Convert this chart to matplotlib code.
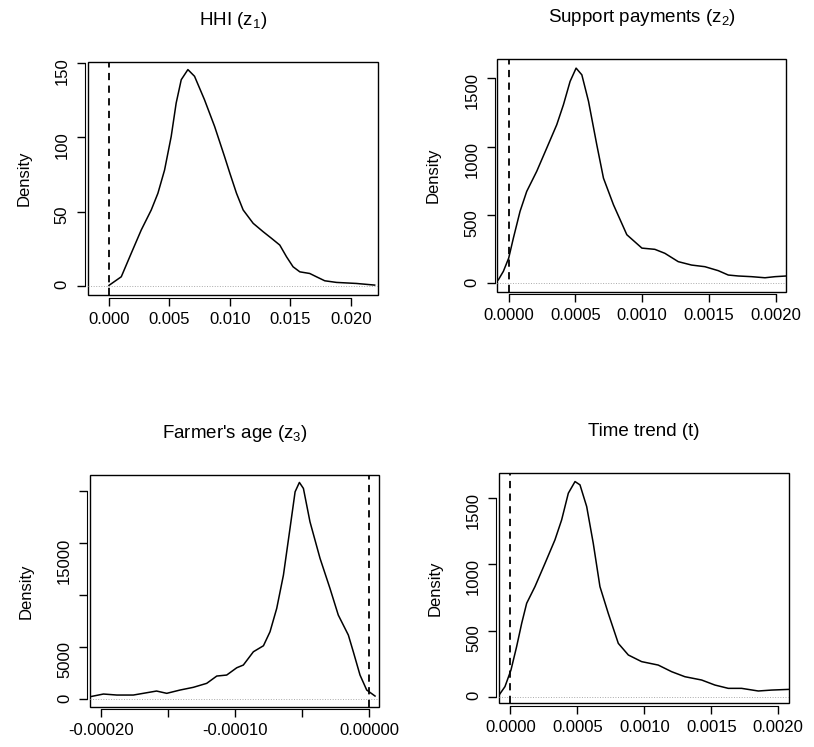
import numpy as np
import matplotlib.pyplot as plt
from matplotlib.patches import Rectangle

plt.rcParams['font.family'] = ['Liberation Sans', 'DejaVu Sans']
plt.rcParams['mathtext.fontset'] = 'custom'
plt.rcParams['mathtext.rm'] = 'Liberation Sans'
plt.rcParams['mathtext.it'] = 'Liberation Sans'

# HHI (z1)
hhi_x = [0.0, 0.00102, 0.00184, 0.00267, 0.0035, 0.00405, 0.0046, 0.00515, 0.00556, 0.00598,
         0.00653, 0.00708, 0.0079, 0.00874, 0.00956, 0.0100, 0.01055, 0.0111, 0.01193,
         0.01275, 0.01345, 0.01413, 0.01469, 0.01523, 0.01579, 0.01661, 0.01716, 0.01785,
         0.01882, 0.02047, 0.02198]
hhi_y = [0.5, 6.3, 22, 37.7, 51.2, 62.4, 78, 100.6, 123, 138.7, 145.5, 141, 125.3, 107.3,
         87.1, 75.9, 62.4, 51.2, 42.2, 36.6, 32.1, 27.6, 19.7, 13, 9.6, 8.5, 6.3, 3.6, 2.5,
         1.8, 0.7]

# Support payments (z2)
sup_x = [-0.0000775, -0.00004, 0.0, 0.000035, 0.000085, 0.000135, 0.00021, 0.000285, 0.00036,
         0.00041, 0.00046, 0.000505, 0.000548, 0.000598, 0.00066, 0.00071, 0.000785,
         0.000885, 0.000998, 0.001095, 0.00117, 0.00127, 0.00137, 0.00147, 0.00157,
         0.001645, 0.00172, 0.00182, 0.00192, 0.001995, 0.00208]
sup_y = [26, 88, 185, 331, 527, 673, 820, 990, 1161, 1307, 1478, 1575, 1526, 1332, 1014, 770,
         575, 356, 258, 249, 220, 159, 134, 122, 93, 61, 54, 49, 41, 49, 54]

# Farmer's age (z3)
age_x = [-0.000208, -0.000198, -0.000188, -0.0001757, -0.0001683, -0.0001584, -0.0001508,
         -0.0001409, -0.000131, -0.000121, -0.0001135, -0.0001061, -0.0000986, -0.0000937,
         -0.0000862, -0.0000787, -0.0000738, -0.0000688, -0.0000638, -0.0000589, -0.0000551,
         -0.0000519, -0.0000489, -0.000044, -0.0000365, -0.0000291, -0.0000229, -0.0000154,
         -0.0000117, -0.0000067, -0.0000017, 0.0000045]
age_y = [250, 510, 413, 413, 577, 798, 577, 894, 1154, 1538, 2240, 2336, 3038, 3298, 4577,
         5154, 6500, 8750, 11952, 16442, 19962, 20865, 20288, 17077, 13558, 10673, 8106,
         6183, 4577, 2336, 894, 317]

# Time trend (t)
time_x = [-0.00008, -0.00004, 0.000005, 0.000047, 0.000085, 0.000122, 0.000184, 0.000259,
          0.000333, 0.000383, 0.000433, 0.000483, 0.00052, 0.00057, 0.000619, 0.000669,
          0.000731, 0.000806, 0.000881, 0.00098, 0.001104, 0.001204, 0.001303, 0.001428,
          0.001527, 0.001627, 0.001726, 0.001851, 0.00195, 0.002075]
time_y = [18, 76, 202, 378, 555, 706, 832, 1008, 1185, 1336, 1538, 1626, 1601, 1437, 1160,
          832, 630, 403, 315, 265, 239, 189, 151, 126, 88, 63, 63, 43, 50, 55]

panels = [
    dict(title='HHI (z$_1$)', x=hhi_x, y=hhi_y, pos=[0.108, 0.605, 0.356, 0.312],
         xlim=(-0.00174, 0.02223), ylim=(-6, 150.6),
         xt=[0, 0.005, 0.01, 0.015, 0.02], xl=['0.000', '0.005', '0.010', '0.015', '0.020'],
         yt=[0, 50, 100, 150], yl=['0', '50', '100', '150']),
    dict(title='Support payments (z$_2$)', x=sup_x, y=sup_y, pos=[0.611, 0.6095, 0.355, 0.311],
         xlim=(-0.000085, 0.00208), ylim=(-61, 1639),
         xt=[0, 0.0005, 0.001, 0.0015, 0.002], xl=['0.0000', '0.0005', '0.0010', '0.0015', '0.0020'],
         yt=[0, 500, 1000, 1500], yl=['0', '500', '1000', '1500']),
    dict(title="Farmer's age (z$_3$)", x=age_x, y=age_y, pos=[0.1106, 0.054, 0.3554, 0.310],
         xlim=(-0.000208, 0.0000077), ylim=(-705, 21570),
         xt=[-0.0002, -0.00015, -0.0001, -0.00005, 0], xl=['-0.00020', '', '-0.00010', '', '0.00000'],
         yt=[0, 5000, 10000, 15000, 20000], yl=['0', '5000', '', '15000', '']),
    dict(title='Time trend (t)', x=time_x, y=time_y, pos=[0.613, 0.0585, 0.3566, 0.308],
         xlim=(-0.0000846, 0.002082), ylim=(-50, 1689),
         xt=[0, 0.0005, 0.001, 0.0015, 0.002], xl=['0.0000', '0.0005', '0.0010', '0.0015', '0.0020'],
         yt=[0, 500, 1000, 1500], yl=['0', '500', '1000', '1500']),
]

fig = plt.figure(figsize=(8.14, 7.47), dpi=100)
for p in panels:
    ax = fig.add_axes(p['pos'])
    ax.plot(p['x'], p['y'], color='black', lw=1.1, solid_joinstyle='round')  # density curve
    ax.axhline(0, color='#aaaaaa', lw=0.7, ls=':')  # zero line
    ax.axvline(0, color='black', lw=1.3, ls=(0, (4, 3)))  # dashed reference
    ax.set_xlim(p['xlim'])
    ax.set_ylim(p['ylim'])
    ax.set_xticks(p['xt'])
    ax.set_xticklabels(p['xl'])
    ax.set_yticks(p['yt'])
    ax.set_yticklabels(p['yl'])
    ax.tick_params(direction='out', length=6, width=1, labelsize=12, pad=4)
    ax.tick_params(axis='y', labelrotation=90, pad=5)
    for lab in ax.get_yticklabels():
        lab.set_va('center')
    for s in ['top', 'right']:
        ax.spines[s].set_visible(False)
    ax.spines['left'].set_position(('outward', 2))
    ax.spines['bottom'].set_position(('outward', 2))
    ax.spines['left'].set_bounds(p['yt'][0], p['yt'][-1])
    ax.spines['bottom'].set_bounds(p['xt'][0], p['xt'][-1])
    ax.add_patch(Rectangle((0, 0), 1, 1, transform=ax.transAxes, fill=False,
                           lw=1.0, color='black', clip_on=False))
    ax.set_ylabel('Density', fontsize=12, labelpad=17)
    ax.set_title(p['title'], fontsize=13.5, pad=27)

plt.savefig('out.png', dpi=100)
